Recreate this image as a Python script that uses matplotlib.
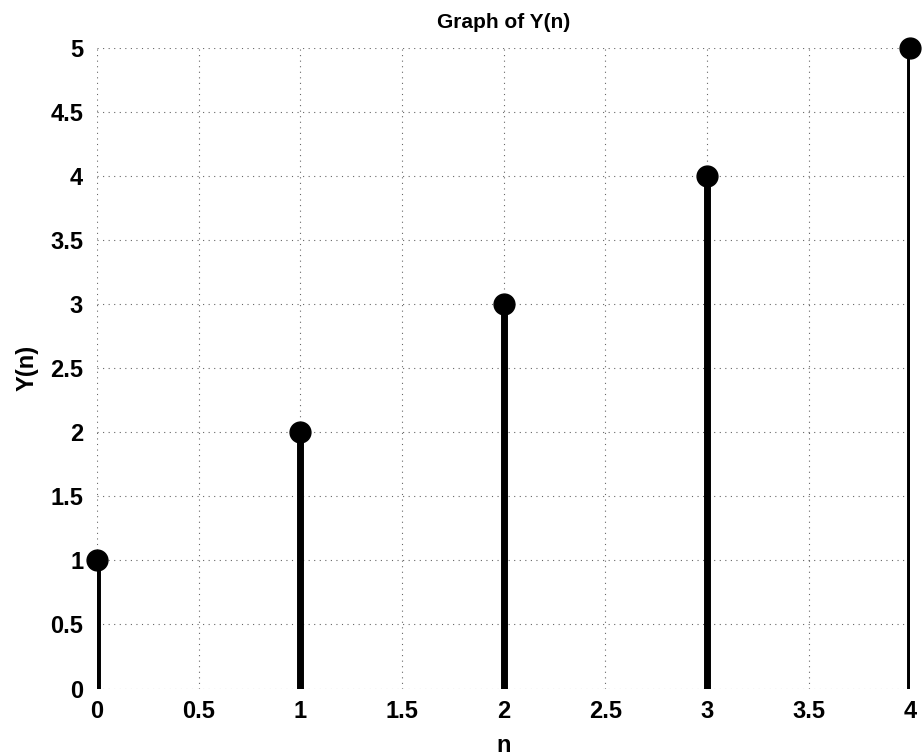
import numpy as np
import matplotlib
matplotlib.use('Agg')
import matplotlib.pyplot as plt

n = [0, 1, 2, 3, 4]
y = [1, 2, 3, 4, 5]
xticks = [0, 0.5, 1, 1.5, 2, 2.5, 3, 3.5, 4]
yticks = [0, 0.5, 1, 1.5, 2, 2.5, 3, 3.5, 4, 4.5, 5]


def main():
    plt.rcParams['font.family'] = ['Liberation Sans', 'DejaVu Sans']
    fig = plt.figure(figsize=(9.24, 7.55), dpi=100)
    ax = fig.add_axes([0.105, 0.088, 0.880, 0.849])

    ml, sl, bl = ax.stem(n, y, linefmt='k-', markerfmt='ko', basefmt=' ')
    plt.setp(sl, linewidth=5, clip_on=True)
    plt.setp(ml, markersize=15, clip_on=False, zorder=5)

    ax.set_xlim(0, 4)
    ax.set_ylim(0, 5)
    ax.set_xticks(xticks)
    ax.set_xticklabels([('%g' % t) for t in xticks], fontsize=17, fontweight='bold')
    ax.set_yticks(yticks)
    ax.set_yticklabels([('%g' % t) for t in yticks], fontsize=17, fontweight='bold')
    ax.tick_params(axis='x', length=0, pad=8)
    ax.tick_params(axis='y', length=0, pad=10)

    ax.grid(True, linestyle=(0, (1, 4)), color='k', linewidth=0.8, alpha=0.6)
    for s in ax.spines.values():
        s.set_visible(False)

    ax.set_title('Graph of Y(n)', fontsize=15, fontweight='bold', pad=14)
    ax.set_xlabel('n', fontsize=17, fontweight='bold', labelpad=8)
    ax.set_ylabel('Y(n)', fontsize=17, fontweight='bold', labelpad=8)

    fig.savefig('out.png', dpi=100)


if __name__ == "__main__":
    main()
